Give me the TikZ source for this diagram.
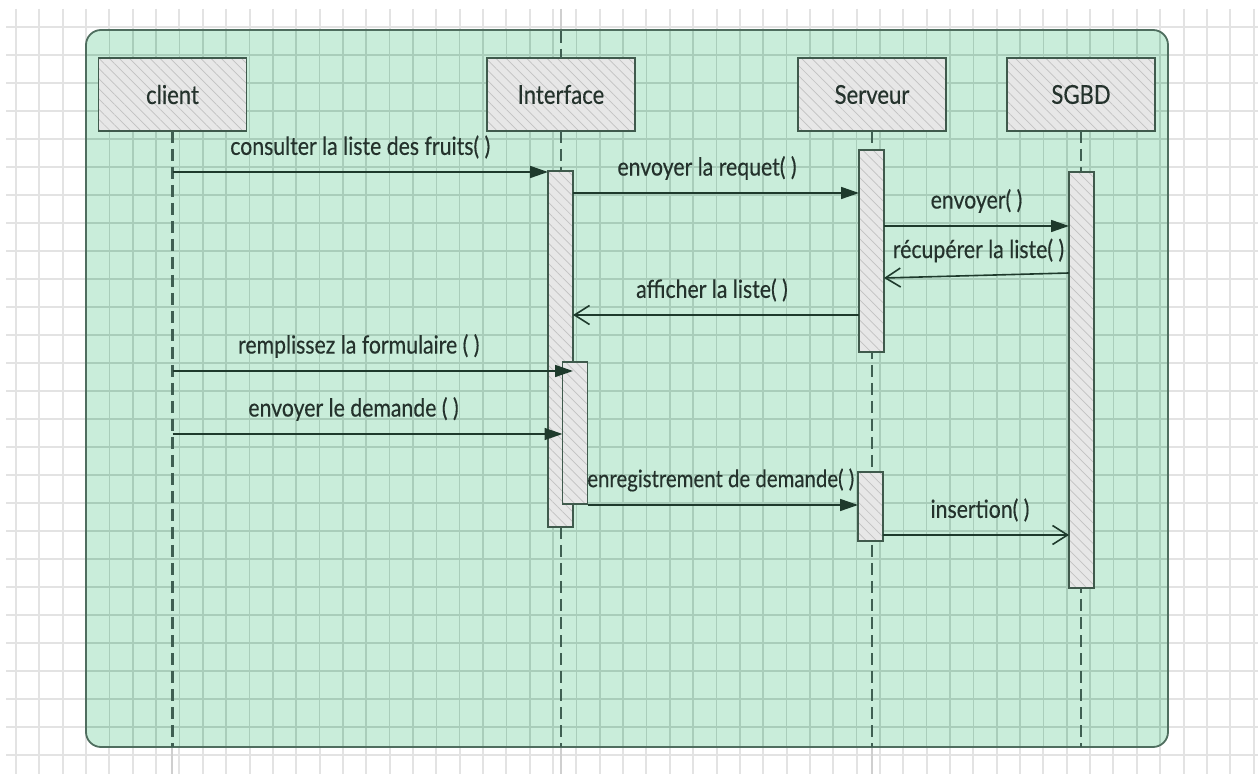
\documentclass[tikz,border=0pt]{standalone}
\usepackage{fontspec}
\setmainfont[FakeStretch=0.85,FakeBold=0.35]{Lato}
\usetikzlibrary{arrows.meta,patterns.meta}

\definecolor{gridout}{HTML}{E3E3E3}
\definecolor{gridin}{HTML}{A9CDBA}
\definecolor{guide}{HTML}{CFCFCF}
\definecolor{framefill}{HTML}{C9EDDA}
\definecolor{frameline}{HTML}{4F6E5F}
\definecolor{boxfill}{HTML}{E7E7E7}
\definecolor{hatch}{HTML}{C2C2C2}
\definecolor{boxline}{HTML}{3F5A4C}
\definecolor{lifec}{HTML}{3F5F52}
\definecolor{arrowc}{HTML}{1E3A2C}
\definecolor{txt}{HTML}{24322C}

\tikzset{
  hatched/.style={preaction={fill=boxfill},
    pattern={Lines[angle=-45,distance=3.6pt,line width=0.35pt]},
    pattern color=hatch, draw=boxline, line width=0.8pt,
    inner sep=0pt, outer sep=0pt},
  head/.style={hatched, minimum width=74pt, minimum height=36.5pt,
    font=\fontsize{13}{15}\selectfont, text=txt},
  act/.style={hatched, minimum width=12.5pt},
  lifeline/.style={draw=lifec, line width=1.05pt, dash pattern=on 6pt off 3pt},
  sync/.style={draw=arrowc, line width=0.8pt, -{Triangle[length=9pt,width=6pt]}},
  reply/.style={draw=arrowc, line width=0.8pt, -{Straight Barb[length=7.5pt,width=9.5pt]}},
  lbl/.style={font=\fontsize{12.5}{14}\selectfont, text=txt, inner sep=0pt, yshift=12.5pt}
}

\begin{document}
\begin{tikzpicture}[x=0.5pt,y=-0.5pt]
\useasboundingbox (0,0) rectangle (1258,774);
\fill[white] (0,0) rectangle (1258,774);

% background grid
\foreach \k in {0,...,53}
  \draw[gridout, line width=1pt] ({16+23.35*\k},9) -- ({16+23.35*\k},774);
\foreach \k in {0,...,26}
  \draw[gridout, line width=1pt] (6,{27+28*\k}) -- (1258,{27+28*\k});

% guide lines outside the frame
\draw[guide, line width=0.9pt] (561,9) -- (561,30);
\foreach \gx in {172,561,872}
  \draw[guide, line width=0.9pt] (\gx,747) -- (\gx,774);

% frame
\fill[framefill, rounded corners=7.5pt] (86,30) rectangle (1168,747);
\begin{scope}
  \clip[rounded corners=7.5pt] (86,30) rectangle (1168,747);
  \foreach \k in {0,...,53}
    \draw[gridin, line width=0.8pt] ({16+23.35*\k},9) -- ({16+23.35*\k},774);
  \foreach \k in {0,...,26}
    \draw[gridin, line width=0.8pt] (6,{27+28*\k}) -- (1258,{27+28*\k});
\end{scope}
\draw[frameline, line width=0.9pt, rounded corners=7.5pt] (86,30) rectangle (1168,747);

% participants
\node[head] (client) at (172.5,94.5) {client};
\node[head] (iface)  at (561,94.5)   {Interface};
\node[head] (serv)   at (872,94.5)   {Serveur};
\node[head] (sgbd)   at (1081,94.5)  {SGBD};

% lifelines
\coordinate (top) at (0,31);
\coordinate (bot) at (0,747);
\draw[lifeline] (iface.north |- top) -- (iface.north);
\draw[lifeline] (client.south) -- (client.south |- bot);
\draw[lifeline] (iface.south)  -- (iface.south |- bot);
\draw[lifeline] (serv.south)   -- (serv.south |- bot);
\draw[lifeline] (sgbd.south)   -- (sgbd.south |- bot);

% activation bars
\node[act, minimum height=178pt]  (ia1) at (560.5,349) {};
\node[act, minimum height=71pt]   (ia2) at (575,433)   {};
\node[act, minimum height=101pt]  (sv1) at (871.5,251) {};
\node[act, minimum height=34.5pt] (sv2) at (870.5,506.5) {};
\node[act, minimum height=208pt]  (db)  at (1081.5,380) {};

% message levels
\coordinate (m1) at (0,172);
\coordinate (m2) at (0,193);
\coordinate (m3) at (0,226);
\coordinate (m4a) at (0,273);
\coordinate (m4b) at (0,278);
\coordinate (m5) at (0,315);
\coordinate (m6) at (0,371);
\coordinate (m7) at (0,434);
\coordinate (m8) at (0,505);
\coordinate (m9) at (0,535);

% messages
\draw[sync] (client.south |- m1) -- (ia1.west |- m1)
  node[lbl, midway] {consulter la liste des fruits( )};
\draw[sync] (ia1.east |- m2) -- (sv1.west |- m2)
  node[lbl, midway, xshift=-4.5pt] {envoyer la requet( )};
\draw[sync] (sv1.east |- m3) -- (db.west |- m3)
  node[lbl, midway] {envoyer( )};
\draw[reply] (db.west |- m4a) -- (sv1.east |- m4b)
  node[lbl, midway, xshift=1pt] {récupérer la liste( )};
\draw[reply] (sv1.west |- m5) -- (ia1.east |- m5)
  node[lbl, midway, xshift=-2pt] {afficher la liste( )};
\draw[sync] (client.south |- m6) -- (ia1.east |- m6)
  node[lbl, midway, xshift=-7pt] {remplissez la formulaire ( )};
\draw[sync] (client.south |- m7) -- (ia2.west |- m7)
  node[lbl, midway, xshift=-7pt] {envoyer le demande ( )};
\draw[sync] (ia2.east |- m8) -- (sv2.west |- m8)
  node[lbl, midway, xshift=-1pt, font=\fontsize{12}{14}\selectfont] {enregistrement de demande( )};
\draw[reply] (sv2.east |- m9) -- (db.west |- m9)
  node[lbl, midway, xshift=2pt] {insertion( )};
\end{tikzpicture}
\end{document}
